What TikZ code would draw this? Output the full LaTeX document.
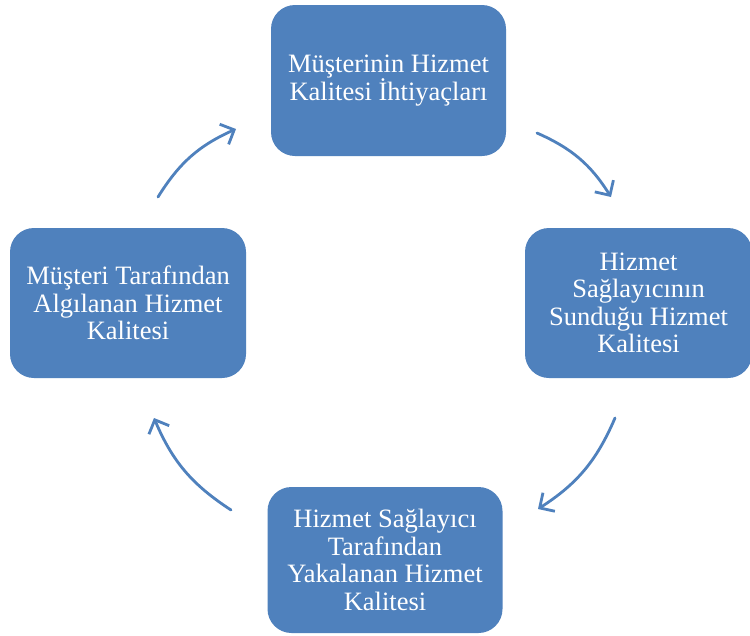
\documentclass[tikz,border=0pt]{standalone}
\usepackage{fontspec}
\setmainfont{Liberation Serif}
\usetikzlibrary{arrows.meta}
\definecolor{boxblue}{HTML}{4F81BD}
\definecolor{arrowblue}{HTML}{4F81BD}
\begin{document}
\begin{tikzpicture}[x=1pt,y=-1pt,
  stagebox/.style={fill=boxblue, draw=none, rounded corners=24pt, text=white,
    align=center, inner sep=0pt,
    font=\fontsize{26.5}{27.5}\selectfont},
  cyclearrow/.style={draw=arrowblue, line width=2.8pt, line cap=round,
    -{Straight Barb[length=11pt,width=22pt,line width=2.8pt]}, bend left=17}
]
\useasboundingbox (0,0) rectangle (750,635);
\fill[white] (0,0) rectangle (750,635);

\node[stagebox, minimum width=235pt, minimum height=151pt] (top) at (388.5,80.5)
  {Müşterinin Hizmet\\Kalitesi İhtiyaçları};
\node[stagebox, minimum width=227pt, minimum height=150pt] (right) at (638.5,303)
  {Hizmet\\Sağlayıcının\\Sunduğu Hizmet\\Kalitesi};
\node[stagebox, minimum width=235pt, minimum height=146pt] (bottom) at (385,560)
  {Hizmet Sağlayıcı\\Tarafından\\Yakalanan Hizmet\\Kalitesi};
\node[stagebox, minimum width=236pt, minimum height=150pt] (left) at (128,303)
  {Müşteri Tarafından\\Algılanan Hizmet\\Kalitesi};

\coordinate (a1s) at (158,197);
\coordinate (a1e) at (236,129);
\coordinate (a2s) at (537,133);
\coordinate (a2e) at (611,197);
\coordinate (a3s) at (615,418);
\coordinate (a3e) at (538,509);
\coordinate (a4s) at (231,510);
\coordinate (a4e) at (154,418);

\draw[cyclearrow] (a1s) to (a1e);
\draw[cyclearrow] (a2s) to (a2e);
\draw[cyclearrow] (a3s) to (a3e);
\draw[cyclearrow] (a4s) to (a4e);
\end{tikzpicture}
\end{document}
